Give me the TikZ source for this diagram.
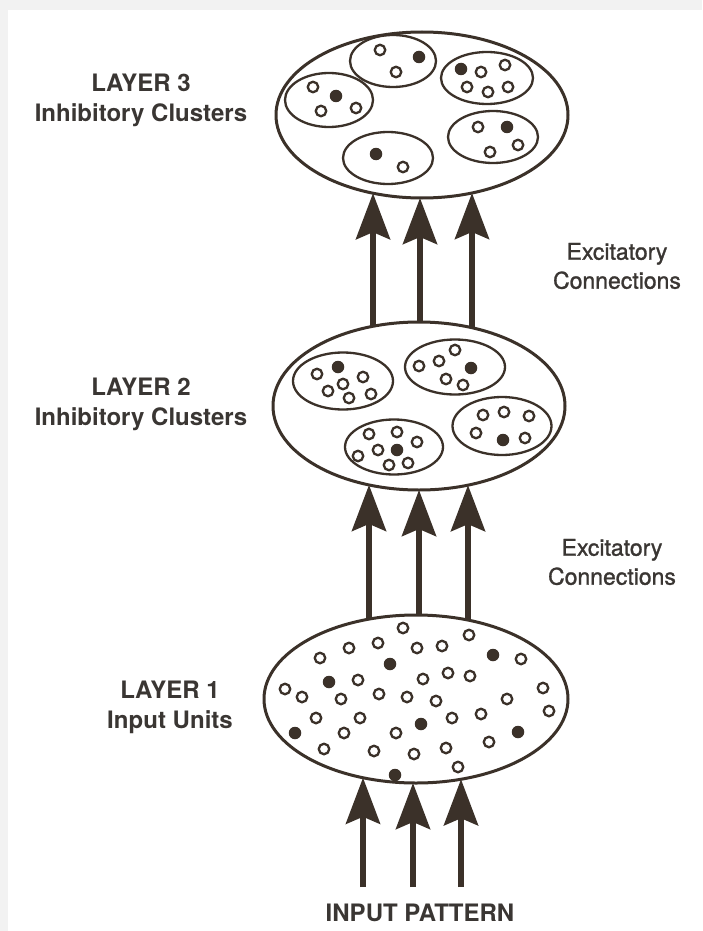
\documentclass[tikz,border=0pt]{standalone}
\usepackage{fontspec}
\setmainfont{TeX Gyre Heros}
\newfontfamily\medfont[FakeBold=1.2]{TeX Gyre Heros}
\usetikzlibrary{arrows.meta,calc,shapes.geometric}
\definecolor{ink}{HTML}{3B3129}
\definecolor{txt}{HTML}{3A3633}
\tikzset{
	layerbox/.style={ellipse, draw=ink, line width=3pt, inner sep=0pt, outer sep=0pt},
	cluster/.style={ellipse, draw=ink, line width=2.3pt, inner sep=0pt},
	unit/.style={circle, draw=ink, line width=2.3pt, inner sep=0pt, minimum size=10.5pt},
	active/.style={circle, fill=ink, inner sep=0pt, minimum size=12.5pt},
	excite/.style={draw=ink, line width=6pt, -{Stealth[length=46pt,width=34pt,inset=7pt]}},
	laytext/.style={text=txt, align=center, font=\bfseries\fontsize{24}{30}\selectfont},
	conntext/.style={text=txt, align=center, font=\medfont\fontsize{23}{29}\selectfont},
}

\begin{document}
\begin{tikzpicture}[x=1pt, y=-1pt]
		%%%%% START %%%%%
		\useasboundingbox (0,0) rectangle (702,931);
		\fill[black!5] (0,0) rectangle (702,931);
		\fill[white] (8,10) rectangle (702,931);
		
		% layers
		\node[layerbox, minimum width=292pt, minimum height=166pt] (layer3) at (422,115) {};
		\node[layerbox, minimum width=292pt, minimum height=168pt] (layer2) at (419,406) {};
		\node[layerbox, minimum width=304pt, minimum height=168pt] (layer1) at (416,699) {};
		
		% layer 3 clusters
		\node[cluster, minimum width=86pt, minimum height=52pt] (c3a) at (393,61) {};
		\node[cluster, minimum width=88pt, minimum height=54pt] (c3b) at (329,100) {};
		\node[cluster, minimum width=92pt, minimum height=52pt] (c3c) at (487,78) {};
		\node[cluster, minimum width=90pt, minimum height=52pt] (c3d) at (493,137) {};
		\node[cluster, minimum width=90pt, minimum height=52pt] (c3e) at (388,158) {};
		\foreach \p [count=\i] in {(380,50),(396,72),(313,87),(321,111),(356,108),(481,72),(505,65),(467,87),(488,92),(508,87),(478,127),(490,152),(518,145),(403,167)}
			\node[unit] (u3-\i) at \p {};
		\foreach \p [count=\i] in {(419,57),(336,96),(461,69),(507,127),(376,154)}
			\node[active] (a3-\i) at \p {};
		
		% layer 2 clusters
		\node[cluster, minimum width=100pt, minimum height=57pt] (c2a) at (343,381) {};
		\node[cluster, minimum width=100pt, minimum height=55pt] (c2b) at (455,367) {};
		\node[cluster, minimum width=99pt, minimum height=58pt] (c2c) at (502,426) {};
		\node[cluster, minimum width=98pt, minimum height=55pt] (c2d) at (394,447) {};
		\foreach \p [count=\i] in {(317,374),(363,377),(343,384),(328,391),(371,394),(349,398),(455,350),(439,361),(419,366),(446,379),(463,385),(483,415),(504,412),(529,416),(476,433),(525,438),(369,434),(397,432),(417,442),(378,450),(358,456),(389,465),(408,463)}
			\node[unit] (u2-\i) at \p {};
		\foreach \p [count=\i] in {(338,367),(471,368),(503,440),(397,450)}
			\node[active] (a2-\i) at \p {};
		
		% layer 1 input units
		\foreach \p [count=\i] in {(403,628),(469,635),(349,648),(378,643),(417,648),(442,646),(320,658),(521,659),(358,680),(423,679),(448,673),(470,676),(285,689),(302,697),(341,699),(379,694),(407,697),(436,701),(507,699),(543,688),(549,711),(316,718),(360,718),(452,718),(481,714),(344,733),(396,733),(324,749),(374,751),(414,754),(446,748),(489,742),(458,767)}
			\node[unit] (u1-\i) at \p {};
		\foreach \p [count=\i] in {(390,664),(493,655),(329,682),(421,724),(295,733),(518,732),(395,775)}
			\node[active] (a1-\i) at \p {};
		
		% connections
		\foreach \x [count=\i] in {373,420,472}{
			\pgfmathsetmacro\dlo{84*sqrt(1-((\x-419)/146)^2)}
			\pgfmathsetmacro\dhi{83*sqrt(1-((\x-422)/146)^2)}
			\coordinate (s23-\i) at ($(layer2.center)+(\x-419,-\dlo)$);
			\coordinate (t23-\i) at ($(layer3.center)+(\x-422,\dhi)$);
			\draw[excite] (s23-\i) -- (t23-\i);
		}
		\foreach \x [count=\i] in {369,419,468}{
			\pgfmathsetmacro\dlo{84*sqrt(1-((\x-416)/152)^2)}
			\pgfmathsetmacro\dhi{84*sqrt(1-((\x-419)/146)^2)}
			\coordinate (s12-\i) at ($(layer1.center)+(\x-416,-\dlo)$);
			\coordinate (t12-\i) at ($(layer2.center)+(\x-419,\dhi)$);
			\draw[excite] (s12-\i) -- (t12-\i);
		}
		\foreach \x [count=\i] in {363,413,461}{
			\pgfmathsetmacro\dhi{84*sqrt(1-((\x-416)/152)^2)}
			\coordinate (s01-\i) at (\x,887);
			\coordinate (t01-\i) at ($(layer1.center)+(\x-416,\dhi)$);
			\draw[excite] (s01-\i) -- (t01-\i);
		}
		
		% labels
		\node[laytext] (lab3) at (141,100) {LAYER 3\\Inhibitory Clusters};
		\node[laytext] (lab2) at (141,404) {LAYER 2\\Inhibitory Clusters};
		\node[laytext] (lab1) at (170,707) {LAYER 1\\Input Units};
		\node[conntext] (exc23) at (617,266) {Excitatory\\Connections};
		\node[conntext] (exc12) at (612,562) {Excitatory\\Connections};
		\node[laytext, font=\bfseries\fontsize{24}{28}\selectfont] (input) at (420,913) {INPUT PATTERN};
		
		%%%%% END %%%%%
\end{tikzpicture}
\end{document}
